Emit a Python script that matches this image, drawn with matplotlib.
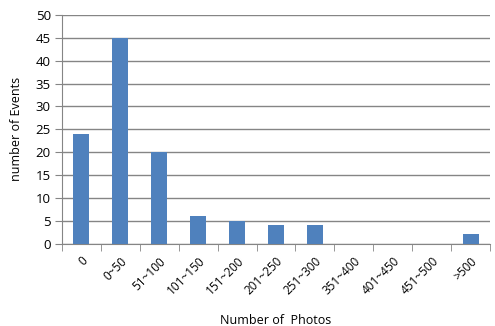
import numpy as np
import matplotlib.pyplot as plt

categories = ["0", "0~50", "51~100", "101~150", "151~200", "201~250",
              "251~300", "351~400", "401~450", "451~500", ">500"]
events = [24, 45, 20, 6, 5, 4, 4, 0, 0, 0, 2]

plt.rcParams['font.family'] = ['Open Sans', 'DejaVu Sans']

fig = plt.figure(figsize=(4.95, 3.26), dpi=100)
ax = fig.add_axes([0.125, 0.253, 0.865, 0.701])

x = np.arange(len(categories))
ax.bar(x, events, width=0.41, color="#4F81BD", zorder=3)

ax.set_xlim(-0.5, len(categories) - 0.5)
ax.set_ylim(0, 50)
ax.set_yticks(range(0, 51, 5))
ax.yaxis.grid(True, color="#858585", linewidth=1.0, zorder=0)
ax.tick_params(axis="y", length=5, color="#858585", labelsize=9.5, pad=3)

ax.set_xticks(x)
ax.set_xticklabels(categories, rotation=45, ha="right", rotation_mode="anchor",
                   fontsize=8.5)
ax.set_xticks(np.arange(-0.5, len(categories)), minor=True)
ax.tick_params(axis="x", which="major", length=0, pad=8)
ax.tick_params(axis="x", which="minor", length=5, color="#858585")

for side in ["top", "right"]:
    ax.spines[side].set_visible(False)
for side in ["left", "bottom"]:
    ax.spines[side].set_color("#858585")

ax.set_xlabel("Number of  Photos", fontsize=9, labelpad=12)
ax.set_ylabel("number of Events", fontsize=9, labelpad=9)

fig.savefig("out.png", dpi=100)
